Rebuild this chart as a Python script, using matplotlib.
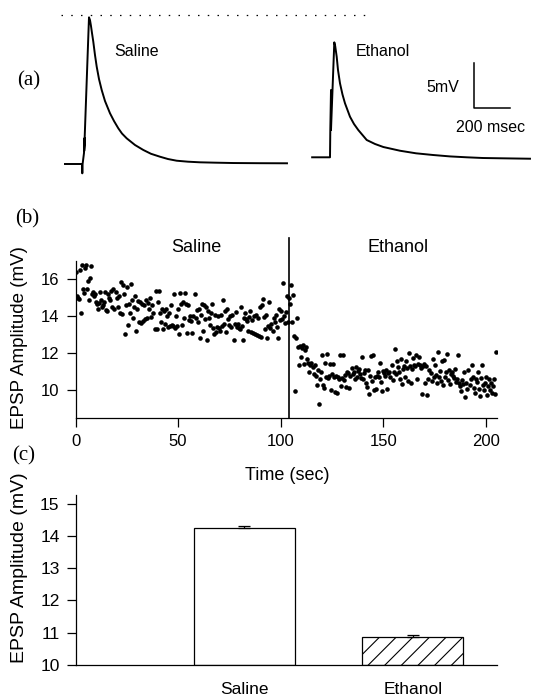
import numpy as np
import matplotlib
matplotlib.use("Agg")
import matplotlib.pyplot as plt

plt.rcParams['font.family'] = ['Liberation Sans', 'DejaVu Sans']
plt.rcParams['hatch.linewidth'] = 0.8

# ---------------- data ----------------
# (a) example EPSP traces: time (ms, from stimulus) and voltage (mV, from baseline)
saline_trace_t = [-97, -1.7, 0, 1.7, 9.5, 12.9, 10.6, 37.5, 43.1, 48.7, 54.3, 61.6, 71.1, 80.7,
                  93.5, 108.7, 127.2, 155.2, 177.6, 201.7, 222.4, 248.7, 295.2, 341.7, 384.8,
                  435.3, 480.1, 528.8, 592.1, 659.3, 743.4, 845.9, 995.5, 1146.7]
saline_trace_v = [0, 0, -1.05, 0, 1.24, 2.93, 1.46, 16.52, 16.21, 15.54, 14.75, 13.77, 12.27, 10.96,
                  9.57, 8.33, 7.09, 5.71, 4.84, 4.02, 3.43, 2.89, 2.14, 1.58, 1.15,
                  0.82, 0.56, 0.37, 0.26, 0.19, 0.15, 0.11, 0.09, 0.08]
ethanol_trace_t = [-100, 0, 1.7, 5.6, 5.6, 7.3, 24.1, 29.1, 37.5, 44.8, 56.0, 70.0, 84.0, 112.0,
                   134.4, 158.5, 205.6, 252.1, 298.6, 392.1, 481.8, 577.0, 672.2, 765.8, 857.1,
                   952.3, 1120.4]
ethanol_trace_v = [0, 0, 3.07, 7.58, 3.07, 4.0, 12.95, 12.53, 11.33, 9.83, 8.33, 7.07, 6.08, 4.57,
                   3.75, 3.07, 1.95, 1.50, 1.16, 0.74, 0.45, 0.26, 0.10, 0.0, -0.08,
                   -0.11, -0.16]
scale_mv = 5
scale_ms = 200

# (b) EPSP amplitude over time (one point every 0.5 s)
sample_interval = 0.5
saline_start = 0.0
saline_amp = [
    16.4, 15.1, 15.0, 14.95, 16.5, 14.2, 16.8, 15.5, 15.25, 16.6, 16.8, 15.5, 15.9, 14.9, 16.1, 16.75, 15.2, 15.3, 15.1, 15.2,
    14.8, 14.7, 14.4, 14.75, 15.3, 14.9, 14.5, 14.6, 14.8, 15.3, 14.35, 14.3, 15.2, 15.0, 14.9, 15.4, 14.5, 15.5, 14.4, 15.3,
    15.0, 14.5, 15.1, 14.2, 15.85, 14.15, 15.7, 15.2, 13.05, 14.6, 15.6, 13.55, 14.7, 14.2, 15.75, 14.9, 13.9, 14.5, 15.1, 13.2,
    14.4, 14.85, 13.7, 14.8, 13.65, 14.7, 13.75, 14.6, 13.85, 14.9, 13.9, 14.75, 14.4, 15.0, 13.95, 14.6, 14.2, 13.3, 15.4, 13.3,
    14.8, 15.4, 14.2, 13.7, 14.4, 13.3, 14.3, 13.6, 14.4, 14.0, 13.45, 14.2, 13.5, 14.6, 13.55, 13.5, 15.2, 13.4, 14.05, 13.5,
    14.4, 13.05, 15.25, 14.7, 13.55, 14.8, 13.9, 15.25, 14.7, 13.1, 14.6, 13.8, 14.0, 13.75, 13.1, 14.0, 15.2, 13.9, 14.35, 13.7,
    14.4, 12.85, 14.1, 14.7, 13.2, 14.6, 13.85, 14.5, 12.75, 14.3, 13.9, 13.55, 14.2, 14.65, 13.35, 13.05, 14.1, 13.15, 13.45, 14.0,
    13.4, 13.2, 14.1, 13.5, 14.9, 13.6, 14.3, 13.15, 14.4, 13.85, 13.55, 14.0, 13.45, 14.1, 12.7, 13.6, 14.25, 13.45, 13.6, 13.35,
    13.3, 14.5, 13.5, 12.7, 13.9, 14.2, 13.85, 13.75, 13.2, 13.95, 14.3, 13.15, 13.8, 13.1, 14.0, 13.05, 14.1, 13.0, 13.9, 12.95,
    14.5, 12.9, 14.6, 14.95, 13.95, 13.3, 14.1, 12.85, 13.5, 14.8, 13.4, 13.6, 13.2, 13.9, 13.7, 14.1, 13.45, 12.85, 14.4, 13.8,
    14.3, 13.85, 15.8, 14.0, 13.65, 14.25, 15.1, 13.7, 15.0,
]
ethanol_start = 104.5
ethanol_amp = [
    14.7, 15.7, 13.7, 15.15, 12.95, 9.95, 12.85, 13.9, 12.35, 11.4, 12.4,
    11.8, 12.3, 12.45, 11.45, 12.2, 12.35, 11.7, 11.5, 11.0, 11.4, 11.5, 11.25, 10.9, 11.35, 10.8, 10.3, 11.1, 9.25, 10.6, 11.0,
    11.9, 10.3, 10.15, 11.5, 10.7, 11.95, 10.65, 10.8, 11.45, 10.0, 10.9, 11.45, 10.75, 9.9, 10.8, 9.85, 10.7, 10.6, 11.9, 10.25,
    10.65, 11.9, 10.55, 10.85, 10.2, 11.0, 10.95, 10.15, 10.8, 11.2, 10.9, 11.0, 10.6, 11.25, 10.7, 11.05, 11.15, 10.9, 10.65, 11.8,
    10.6, 10.95, 11.1, 10.4, 10.2, 11.1, 9.8, 10.8, 11.85, 10.5, 11.9, 10.0, 10.7, 10.1, 10.8, 11.0, 10.7, 11.5, 10.45, 9.95,
    11.05, 10.95, 10.8, 11.1, 10.1, 10.95, 11.0, 10.7, 11.4, 10.55, 11.0, 12.25, 10.9, 11.6, 11.25, 11.0, 10.6, 11.7, 10.35, 11.15,
    11.3, 10.7, 11.6, 11.2, 10.5, 12.0, 11.3, 10.4, 11.15, 11.75, 11.35, 11.3, 11.9, 10.6, 11.45, 11.8, 11.35, 11.2, 9.8, 11.3,
    11.45, 10.4, 11.3, 9.75, 10.6, 11.1, 10.95, 10.5, 11.7, 10.7, 11.35, 10.85, 10.4, 12.1, 10.75, 11.05, 10.5, 11.6, 10.3, 11.65,
    10.7, 11.0, 11.95, 10.55, 11.1, 10.35, 10.9, 11.0, 10.8, 10.65, 11.15, 10.45, 10.6, 11.9, 10.4, 10.25, 9.95, 10.55, 10.35, 11.0,
    9.65, 10.4, 10.05, 11.1, 10.3, 10.6, 11.35, 10.7, 10.15, 9.85, 10.6, 10.45, 11.0, 10.1, 9.7, 10.65, 11.35, 10.3, 10.0, 10.4,
    10.7, 9.75, 10.25, 10.6, 10.0, 10.4, 9.85, 10.25, 10.6, 9.8, 12.05,
]
ethanol_onset = 104.2
b_xticks = [0, 50, 100, 150, 200]
b_yticks = [10, 12, 14, 16]

# (c) mean EPSP amplitude
conditions = ["Saline", "Ethanol"]
mean_amp = [14.24, 10.87]
sem_amp = [0.06, 0.07]
c_yticks = [10, 11, 12, 13, 14, 15]

# ---------------- figure ----------------
W, H = 533, 696
fig = plt.figure(figsize=(W / 100, H / 100), dpi=100)

def fx(px):
    return px / W

def fy(py):
    return 1 - py / H

# ----- panel (a) -----
ms_per_px = scale_ms / 35.7
mv_per_px = scale_mv / 44.4
axa = fig.add_axes([0, fy(190), 1, 190 / H])
axa.axis('off')
sal_x0, sal_y0 = 82.3, 164.0
axa.set_xlim(-sal_x0 * ms_per_px, (W - sal_x0) * ms_per_px)
axa.set_ylim((sal_y0 - 190) * mv_per_px, sal_y0 * mv_per_px)
axa.plot(saline_trace_t, saline_trace_v, color='black', lw=1.4, solid_joinstyle='round')
eth_dx = (330 - sal_x0) * ms_per_px
eth_dy = (sal_y0 - 157.3) * mv_per_px
axa.plot(np.array(ethanol_trace_t) + eth_dx, np.array(ethanol_trace_v) + eth_dy,
         color='black', lw=1.4, solid_joinstyle='round')
# dotted reference line at saline peak
dot_y = (sal_y0 - 15) * mv_per_px
axa.plot([(61 - sal_x0) * ms_per_px, (369 - sal_x0) * ms_per_px], [dot_y, dot_y],
         color='black', lw=0.9, linestyle=(0, (1.2, 6.6)))
# scale bar
sb_x = (474.3 - sal_x0) * ms_per_px
sb_y = (sal_y0 - 107.7) * mv_per_px
axa.plot([sb_x, sb_x, sb_x + scale_ms], [sb_y + scale_mv, sb_y, sb_y], color='black', lw=1.1)
fig.text(fx(137), fy(51), "Saline", ha='center', va='center', fontsize=11.5)
fig.text(fx(383), fy(51), "Ethanol", ha='center', va='center', fontsize=11.5)
fig.text(fx(443), fy(88), f"{scale_mv}mV", ha='center', va='center', fontsize=11.5)
fig.text(fx(491), fy(127), f"{scale_ms} msec", ha='center', va='center', fontsize=11.5)
fig.text(fx(29), fy(81), "(a)", ha='center', va='center', fontsize=15,
         family=['Liberation Serif', 'DejaVu Serif'])

# ----- panel (b) -----
bl, br, bt, bb = 75.5, 497, 261, 418.3
axb = fig.add_axes([fx(bl), fy(bb), (br - bl) / W, (bb - bt) / H])
t_sal = saline_start + sample_interval * np.arange(len(saline_amp))
t_eth = ethanol_start + sample_interval * np.arange(len(ethanol_amp))
axb.plot(t_sal, saline_amp, 'o', color='black', ms=3.3, mew=0)
axb.plot(t_eth, ethanol_amp, 'o', color='black', ms=3.3, mew=0)
axb.set_xlim(0, 205.4)
axb.set_ylim(8.49, 17.0)
axb.plot([ethanol_onset, ethanol_onset], [8.49, 18.27], color='black', lw=1.2, clip_on=False)
axb.set_xticks(b_xticks)
axb.set_yticks(b_yticks)
for s in ['top', 'right']:
    axb.spines[s].set_visible(False)
for s in ['left', 'bottom']:
    axb.spines[s].set_linewidth(0.9)
axb.tick_params(direction='out', length=6.5, width=0.9, labelsize=12, pad=5)
fig.text(fx(196), fy(248), "Saline", ha='center', va='center', fontsize=13)
fig.text(fx(398), fy(248), "Ethanol", ha='center', va='center', fontsize=13)
fig.text(fx(287), fy(476), "Time (sec)", ha='center', va='center', fontsize=13)
fig.text(fx(20), fy(338), "EPSP Amplitude (mV)", ha='center', va='center', rotation=90, fontsize=13.5)
fig.text(fx(27), fy(219), "(b)", ha='center', va='center', fontsize=15,
         family=['Liberation Serif', 'DejaVu Serif'])

# ----- panel (c) -----
cl, cr, ct, cb = 75.5, 497, 495, 665
axc = fig.add_axes([fx(cl), fy(cb), (cr - cl) / W, (cb - ct) / H])
pos = [1, 2]
axc.bar(pos, np.array(mean_amp) - 10, bottom=10, width=0.6, color=['white', 'white'],
        edgecolor='black', linewidth=0.9, hatch=['', '//'])
axc.errorbar(pos, mean_amp, yerr=[[0, 0], sem_amp], fmt='none', ecolor='black',
             elinewidth=0.9, capsize=4, capthick=0.9)
axc.set_xlim(0, 2.5)
axc.set_ylim(10, 15.27)
axc.set_yticks(c_yticks)
axc.set_xticks(pos)
axc.set_xticklabels(conditions)
for s in ['top', 'right']:
    axc.spines[s].set_visible(False)
for s in ['left', 'bottom']:
    axc.spines[s].set_linewidth(0.9)
axc.tick_params(axis='y', direction='out', length=6.5, width=0.9, labelsize=12.5, pad=5)
axc.tick_params(axis='x', length=0, labelsize=12.5, pad=12)
fig.text(fx(20), fy(568), "EPSP Amplitude (mV)", ha='center', va='center', rotation=90, fontsize=14)
fig.text(fx(24), fy(456), "(c)", ha='center', va='center', fontsize=15,
         family=['Liberation Serif', 'DejaVu Serif'])

fig.savefig("out.png", dpi=100)
